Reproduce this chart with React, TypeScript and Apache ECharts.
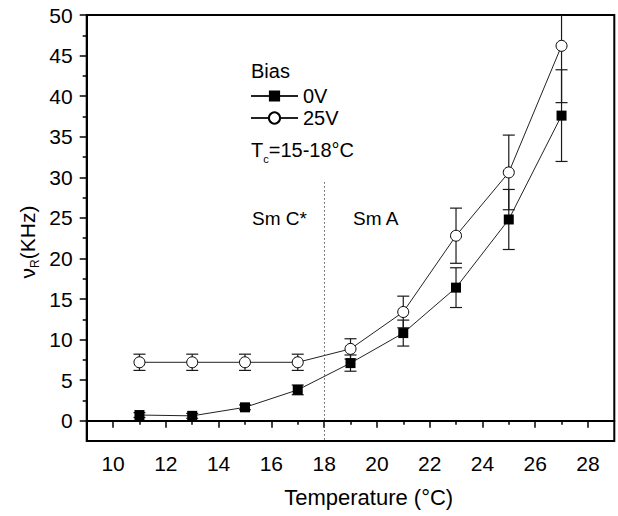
import React, { useEffect, useRef } from 'react';
import * as echarts from 'echarts';

const temperatures = [11, 13, 15, 17, 19, 21, 23, 25, 27];
const bias0V = [0.7, 0.6, 1.65, 3.8, 7.1, 10.8, 16.4, 24.8, 37.6];
const bias0VErr = [0.3, 0.3, 0.3, 0.6, 1.0, 1.6, 2.45, 3.7, 5.65];
const bias25V = [7.2, 7.2, 7.2, 7.2, 8.85, 13.4, 22.8, 30.6, 46.2];
const bias25VErr = [1.0, 1.0, 1.0, 1.0, 1.25, 1.95, 3.4, 4.6, 7.0];

const xMajorTicks = [10, 12, 14, 16, 18, 20, 22, 24, 26, 28];
const xMinorTicks = [11, 13, 15, 17, 19, 21, 23, 25, 27];
const yMajorTicks = [0, 5, 10, 15, 20, 25, 30, 35, 40, 45, 50];
const yMinorTicks = [2.5, 7.5, 12.5, 17.5, 22.5, 27.5, 32.5, 37.5, 42.5, 47.5];

const transitionTemp = 18;
const transitionLineTop = 29.4;
const transitionLineBottom = -2.5;

const FONT = "'Liberation Sans', Arial, Helvetica, sans-serif";

function errorSeries(name: string, vals: number[], errs: number[]) {
  return {
    type: 'custom',
    name,
    z: 1,
    data: temperatures.map((t, i) => [t, vals[i], errs[i]]),
    renderItem: (params: any, api: any) => {
      const x = api.value(0);
      const v = api.value(1);
      const e = api.value(2);
      const cs = params.coordSys;
      const top = cs.y;
      const hi = api.coord([x, v + e]);
      const lo = api.coord([x, v - e]);
      const hw = 6;
      const style = { stroke: '#1a1a1a', lineWidth: 1.2 };
      const children: any[] = [
        { type: 'line', shape: { x1: hi[0], y1: Math.max(hi[1], top), x2: lo[0], y2: lo[1] }, style },
        { type: 'line', shape: { x1: lo[0] - hw, y1: lo[1], x2: lo[0] + hw, y2: lo[1] }, style },
      ];
      if (hi[1] >= top) {
        children.push({ type: 'line', shape: { x1: hi[0] - hw, y1: hi[1], x2: hi[0] + hw, y2: hi[1] }, style });
      }
      return { type: 'group', children };
    },
  };
}

export default function App() {
  const ref = useRef<HTMLDivElement>(null);
  useEffect(() => {
    if (!ref.current) return;
    const chart = echarts.init(ref.current, undefined, { renderer: 'svg' });
    const axisLineStyle = { color: '#000', width: 2 };
    const option: any = {
      animation: false,
      backgroundColor: '#fff',
      textStyle: { fontFamily: FONT, color: '#000' },
      grid: {
        left: 86.7,
        right: 3.7,
        top: 15,
        bottom: 75,
        show: true,
        borderColor: '#000',
        borderWidth: 2,
      },
      xAxis: [
        {
          type: 'value',
          min: 9,
          max: 29,
          position: 'bottom',
          axisLine: { show: true, lineStyle: axisLineStyle },
          axisTick: { show: true, length: 7, customValues: xMajorTicks, lineStyle: { color: '#000', width: 1.5 } },
          axisLabel: { customValues: xMajorTicks, fontSize: 21, margin: 12, color: '#000', fontFamily: FONT },
          splitLine: { show: false },
        },
        {
          type: 'value',
          min: 9,
          max: 29,
          position: 'bottom',
          axisLine: { show: false },
          axisTick: { show: true, length: 4, customValues: xMinorTicks, lineStyle: { color: '#000', width: 1.5 } },
          axisLabel: { show: false },
          splitLine: { show: false },
        },
      ],
      yAxis: [
        {
          type: 'value',
          min: -2.5,
          max: 50,
          position: 'left',
          axisLine: { show: true, lineStyle: axisLineStyle },
          axisTick: { show: true, length: 7, customValues: yMajorTicks, lineStyle: { color: '#000', width: 1.5 } },
          axisLabel: { customValues: yMajorTicks, fontSize: 21, margin: 14, color: '#000', fontFamily: FONT },
          splitLine: { show: false },
        },
        {
          type: 'value',
          min: -2.5,
          max: 50,
          position: 'left',
          axisLine: { show: false },
          axisTick: { show: true, length: 4, customValues: yMinorTicks, lineStyle: { color: '#000', width: 1.5 } },
          axisLabel: { show: false },
          splitLine: { show: false },
        },
      ],
      legend: {
        data: ['0V', '25V'],
        orient: 'vertical',
        left: 250,
        top: 86,
        padding: 0,
        itemWidth: 47,
        itemHeight: 14,
        itemGap: 2,
        textStyle: { fontSize: 20, lineHeight: 20, color: '#000', fontFamily: FONT },
        selectedMode: false,
      },
      series: [
        errorSeries('err0V', bias0V, bias0VErr),
        errorSeries('err25V', bias25V, bias25VErr),
        {
          type: 'line',
          name: '0V',
          z: 3,
          data: temperatures.map((t, i) => [t, bias0V[i]]),
          symbol: 'rect',
          symbolSize: 10,
          itemStyle: { color: '#000', borderColor: '#000', borderWidth: 0 },
          lineStyle: { color: '#222', width: 1 },
          markLine: {
            silent: true,
            symbol: 'none',
            label: { show: false },
            lineStyle: { color: '#555', type: [1.5, 2.5], width: 1 },
            data: [[{ coord: [transitionTemp, transitionLineTop] }, { coord: [transitionTemp, transitionLineBottom] }]],
          },
        },
        {
          type: 'line',
          name: '25V',
          z: 3,
          data: temperatures.map((t, i) => [t, bias25V[i]]),
          symbol: 'circle',
          symbolSize: 11,
          itemStyle: { color: '#fff', borderColor: '#000', borderWidth: 1 },
          lineStyle: { color: '#222', width: 1 },
        },
      ],
      graphic: [
        {
          type: 'text',
          x: 251,
          y: 71,
          style: { text: 'Bias', fontSize: 20, fontFamily: FONT, fill: '#000', verticalAlign: 'middle' },
        },
        {
          type: 'text',
          x: 251,
          y: 150,
          style: {
            text: '{a|T}{s|c}{a|=15-18°C}',
            fontFamily: FONT,
            fill: '#000',
            verticalAlign: 'middle',
            rich: {
              a: { fontSize: 20, lineHeight: 28, fontFamily: FONT, fill: '#000' },
              s: { fontSize: 11, lineHeight: 11, fontFamily: FONT, fill: '#000', verticalAlign: 'bottom' },
            },
          },
        },
        {
          type: 'text',
          x: 252,
          y: 218,
          style: { text: 'Sm C*', fontSize: 19, fontFamily: FONT, fill: '#000', verticalAlign: 'middle' },
        },
        {
          type: 'text',
          x: 353,
          y: 218,
          style: { text: 'Sm A', fontSize: 19, fontFamily: FONT, fill: '#000', verticalAlign: 'middle' },
        },
        {
          type: 'text',
          x: 368.7,
          y: 497,
          style: { text: 'Temperature (°C)', fontSize: 22, fontFamily: FONT, fill: '#000', align: 'center', verticalAlign: 'middle' },
        },
        {
          type: 'text',
          x: 27,
          y: 242,
          rotation: Math.PI / 2,
          style: {
            text: '{a|ν}{s|R}{a|(KHz)}',
            fontFamily: FONT,
            fill: '#000',
            align: 'center',
            verticalAlign: 'middle',
            rich: {
              a: { fontSize: 21, lineHeight: 28, fontFamily: FONT, fill: '#000' },
              s: { fontSize: 12, lineHeight: 12, fontFamily: FONT, fill: '#000', verticalAlign: 'bottom' },
            },
          },
        },
      ],
    };
    chart.setOption(option);
    return () => chart.dispose();
  }, []);
  return <div ref={ref} style={{ position: 'fixed', left: 0, top: 0, width: 618, height: 516 }} />;
}
